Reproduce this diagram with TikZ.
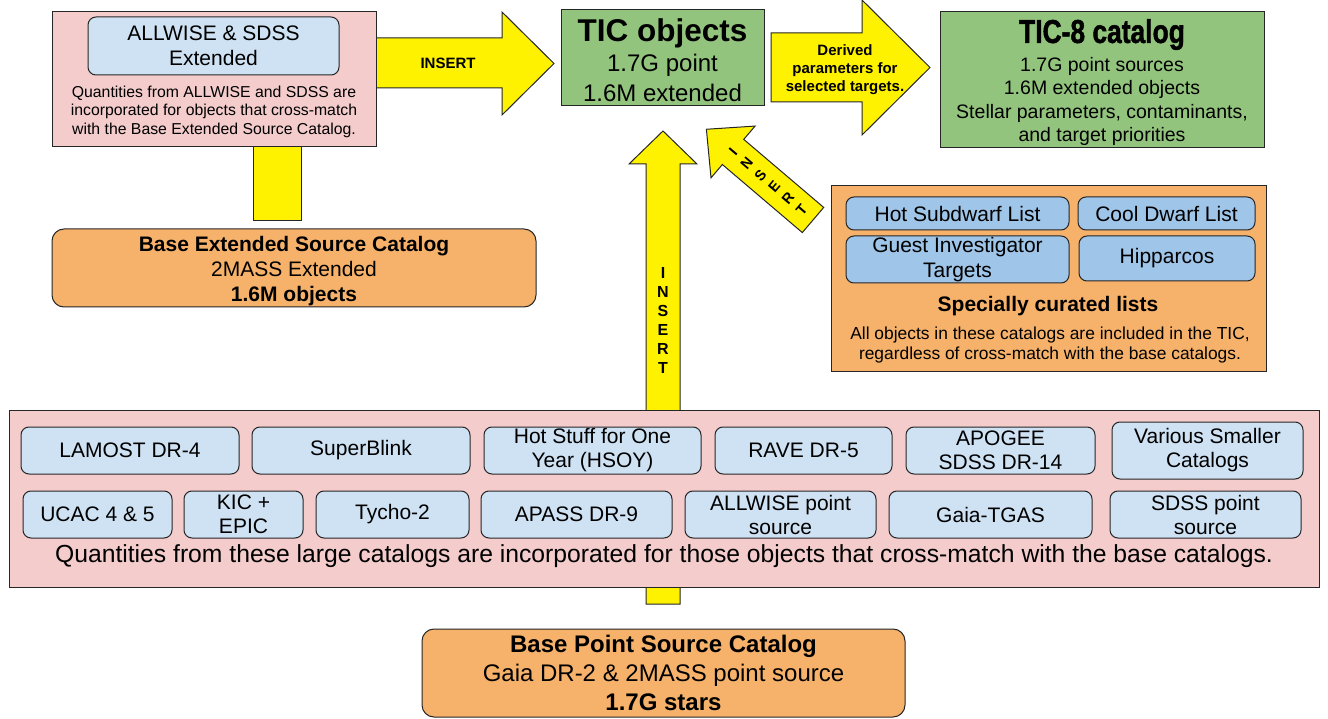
\documentclass[tikz,border=0pt]{standalone}
\usepackage{fontspec}
\setmainfont{Liberation Sans}
\newfontfamily\heavyfont[FakeBold=1.6]{Liberation Sans}
\definecolor{pinkfill}{HTML}{F4CCCC}
\definecolor{paleblue}{HTML}{CFE2F3}
\definecolor{midblue}{HTML}{9FC5E8}
\definecolor{orangefill}{HTML}{F6B26B}
\definecolor{greenfill}{HTML}{93C47D}
\newcommand{\fsz}[2]{\fontsize{#1}{#2}\selectfont}
\tikzset{
    plainbox/.style={draw=black!85, line width=1pt, inner sep=0pt, align=center},
    pinkbox/.style={plainbox, fill=pinkfill},
    greenbox/.style={plainbox, fill=greenfill},
    orangebox/.style={plainbox, fill=orangefill},
    orangeround/.style={plainbox, fill=orangefill, rounded corners=12pt},
    catbox/.style={plainbox, fill=paleblue, rounded corners=8pt, font=\fsz{21}{24}},
    listbox/.style={plainbox, fill=midblue, rounded corners=8pt, font=\fsz{21}{25}},
    arrowblock/.style={draw=black!85, line width=1pt, fill=yellow},
    lettr/.style={font=\fsz{16}{16}\bfseries, inner sep=0pt}
}
\begin{document}
\begin{tikzpicture}[x=1pt, y=-1pt]
    \useasboundingbox (0,0) rectangle (1328,719);

    % yellow insert arrows
    \draw[arrowblock] (376,38) -- (502,38) -- (502,12) -- (554,63.5) -- (502,115) -- (502,88) -- (376,88) -- cycle;
    \draw[arrowblock] (771,33) -- (862,33) -- (862,0) -- (930,67.5) -- (862,135) -- (862,102) -- (771,102) -- cycle;
    \draw[arrowblock] (646,604) -- (646,164) -- (629,164) -- (663,131) -- (697,164) -- (680,164) -- (680,604) -- cycle;
    \draw[arrowblock] (253,147) rectangle (301,221);
    \begin{scope}[shift={(813,220)}, rotate=139.6]
        \draw[arrowblock] (0,-16.5) -- (105,-16.5) -- (105,-34) -- (140,0) -- (105,34) -- (105,16.5) -- (0,16.5) -- cycle;
        \foreach \c [count=\i] in {I,N,S,E,R,T}
            \node[lettr, font=\fsz{14.5}{15}\bfseries, rotate=49.6] at (123-18*\i,0) {\c};
    \end{scope}
    \foreach \c [count=\i] in {I,N,S,E,R,T}
        \node[lettr] at (663,254+19*\i) {\c};
    \node[font=\fsz{15}{18}\bfseries] (insertlbl) at (448,63) {INSERT};
    \node[font=\fsz{15}{18}\bfseries, align=center] (derived) at (845,70) {Derived\\parameters for\\selected targets.};

    % extended sources
    \node[pinkbox, minimum width=324pt, minimum height=135pt] (allwise) at (214,79.5) {};
    \node[catbox, minimum width=251pt, minimum height=58pt, font=\fsz{21}{25}] (allwiseext) at (213.5,46) {ALLWISE \& SDSS\\Extended};
    \node[font=\fsz{15.8}{18.5}, align=center] (allwisenote) at (214,111.5) {Quantities from ALLWISE and SDSS are\\incorporated for objects that cross-match\\with the Base Extended Source Catalog.};
    \node[orangeround, minimum width=484pt, minimum height=78pt] (baseext) at (294,268) {};
    \node[font=\fsz{21}{25}, align=center] (baseexttext) at (294,271) {\textbf{Base Extended Source Catalog}\\2MASS Extended\\\textbf{1.6M objects}};

    % outputs
    \node[greenbox, minimum width=203pt, minimum height=96pt] (ticobj) at (662.5,58) {};
    \node[font=\fsz{24}{30}, align=center] (ticobjtext) at (662.5,60) {{\fsz{31.5}{33}\bfseries TIC objects}\\1.7G point\\1.6M extended};
    \node[greenbox, minimum width=324pt, minimum height=136pt] (tic8) at (1102,80) {};
    \node[font=\fsz{19.5}{23.5}, align=center] (tic8text) at (1102,82.5) {\scalebox{0.8}[1]{\heavyfont\fsz{33}{33}\bfseries TIC-8 catalog}\\[5pt]1.7G point sources\\1.6M extended objects\\Stellar parameters, contaminants,\\and target priorities};

    % curated lists
    \node[orangebox, minimum width=435pt, minimum height=185pt] (curated) at (1048.5,278.5) {};
    \node[listbox, minimum width=223pt, minimum height=33pt] (hotsub) at (957.5,213.5) {Hot Subdwarf List};
    \node[listbox, minimum width=177pt, minimum height=33pt] (cooldwarf) at (1166.5,213.5) {Cool Dwarf List};
    \node[listbox, minimum width=223pt, minimum height=47pt] (guest) at (957.5,259.5) {Guest Investigator\\Targets};
    \node[listbox, minimum width=176pt, minimum height=45pt] (hipparcos) at (1167,258.5) {Hipparcos};
    \node[font=\fsz{21}{25}\bfseries] (curatedlbl) at (1048,306) {Specially curated lists};
    \node[font=\fsz{17.4}{20}, align=center] (curatednote) at (1050,345) {All objects in these catalogs are included in the TIC,\\regardless of cross-match with the base catalogs.};

    % large catalogs
    \node[pinkbox, minimum width=1310pt, minimum height=177pt] (catalogs) at (664,498.5) {};
    \node[catbox, minimum width=218pt, minimum height=47pt] (lamost) at (130,450.5) {LAMOST DR-4};
    \node[catbox, minimum width=218pt, minimum height=47pt] (superblink) at (361,450.5) {SuperBlink};
    \node[catbox, minimum width=217pt, minimum height=47pt] (hsoy) at (592.5,450.5) {Hot Stuff for One\\Year (HSOY)};
    \node[catbox, minimum width=177pt, minimum height=47pt] (rave) at (803.5,450.5) {RAVE DR-5};
    \node[catbox, minimum width=189pt, minimum height=47pt] (apogee) at (1000.5,450.5) {APOGEE\\SDSS DR-14};
    \node[catbox, minimum width=191pt, minimum height=57pt] (various) at (1207.5,450.5) {Various Smaller\\Catalogs};
    \node[catbox, minimum width=149pt, minimum height=47pt] (ucac) at (97.5,514.5) {UCAC 4 \& 5};
    \node[catbox, minimum width=119pt, minimum height=47pt] (kic) at (243.5,514.5) {KIC +\\EPIC};
    \node[catbox, minimum width=153pt, minimum height=47pt] (tycho) at (392.5,514.5) {Tycho-2};
    \node[catbox, minimum width=191pt, minimum height=47pt] (apass) at (576.5,514.5) {APASS DR-9};
    \node[catbox, minimum width=191pt, minimum height=47pt] (allwisept) at (780.5,514.5) {ALLWISE point\\source};
    \node[catbox, minimum width=203pt, minimum height=47pt] (gaiatgas) at (990.5,514.5) {Gaia-TGAS};
    \node[catbox, minimum width=191pt, minimum height=47pt] (sdsspt) at (1205.5,514.5) {SDSS point\\source};
    \node[font=\fsz{24.7}{28}] (catalogsnote) at (664,556.5) {Quantities from these large catalogs are incorporated for those objects that cross-match with the base catalogs.};

    % base point sources
    \node[orangeround, minimum width=483pt, minimum height=88pt, font=\fsz{24}{29}] (basepoint) at (663.5,673) {\textbf{Base Point Source Catalog}\\Gaia DR-2 \& 2MASS point source\\\textbf{1.7G stars}};
\end{tikzpicture}
\end{document}
